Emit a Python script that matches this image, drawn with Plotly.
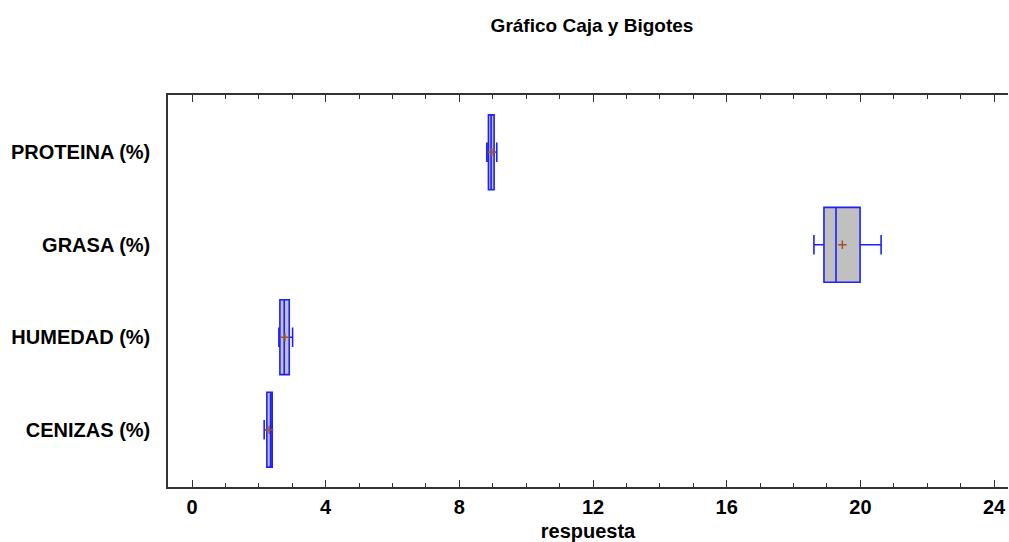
import plotly.graph_objects as go

# Variables (top to bottom) and their five-number summaries + mean
categorias = ["PROTEINA (%)", "GRASA (%)", "HUMEDAD (%)", "CENIZAS (%)"]
minimo = [8.82, 18.61, 2.60, 2.16]
q1 = [8.87, 18.91, 2.63, 2.24]
mediana = [8.95, 19.27, 2.76, 2.35]
q3 = [9.04, 19.99, 2.91, 2.40]
maximo = [9.12, 20.62, 3.01, 2.40]
media = [8.97, 19.46, 2.78, 2.31]

x_ticks = [0, 4, 8, 12, 16, 20, 24]

posiciones = list(range(len(categorias) - 1, -1, -1))

FONT = "Liberation Sans, Arial, sans-serif"
AZUL = "#1f1fff"
EJE = "#333333"

fig = go.Figure()

for pos, c, mn, a, m, b, mx in zip(posiciones, categorias, minimo, q1, mediana, q3, maximo):
    fig.add_trace(go.Box(
        y=[pos], q1=[a], median=[m], q3=[b],
        lowerfence=[mn], upperfence=[mx],
        orientation="h", name=c,
        width=0.81, whiskerwidth=0.26,
        fillcolor="#c0c0c0",
        line=dict(color=AZUL, width=1.6),
        boxpoints=False, showlegend=False,
        hoverinfo="skip",
    ))

fig.add_trace(go.Scatter(
    x=media, y=posiciones, mode="markers",
    marker=dict(symbol="cross-thin", size=6,
                line=dict(color="#a0522d", width=1.5)),
    showlegend=False, hoverinfo="skip",
))

fig.update_layout(
    width=1009, height=542,
    margin=dict(l=168, r=1, t=95, b=55),
    paper_bgcolor="white", plot_bgcolor="white",
    font=dict(family=FONT, color="black"),
    title=dict(text="Gráfico Caja y Bigotes", x=0.5867, xanchor="center",
               y=0.953, yanchor="middle",
               font=dict(family=FONT, size=19, weight="bold")),
)

fig.update_xaxes(
    range=[-0.718, 24.417],
    tickvals=x_ticks, ticktext=[str(v) for v in x_ticks],
    ticks="inside", ticklen=7, tickwidth=1.3, tickcolor=EJE,
    minor=dict(dtick=1, ticks="inside", ticklen=4, tickwidth=1.2, tickcolor=EJE),
    showline=True, linecolor=EJE, linewidth=1.5, mirror="ticks",
    showgrid=False, zeroline=False,
    tickfont=dict(family=FONT, size=20, weight="bold"),
    ticklabelstandoff=1,
    title=dict(text="respuesta", standoff=10,
               font=dict(family=FONT, size=20, weight="bold")),
)

fig.update_yaxes(
    range=[-0.62, 3.62],
    tickvals=posiciones, ticktext=categorias,
    ticks="", showline=True, linecolor=EJE, linewidth=1.5,
    showgrid=False, zeroline=False,
    tickfont=dict(family=FONT, size=20, weight="bold"),
    ticklabelstandoff=12,
)

fig.write_html("out.html")
